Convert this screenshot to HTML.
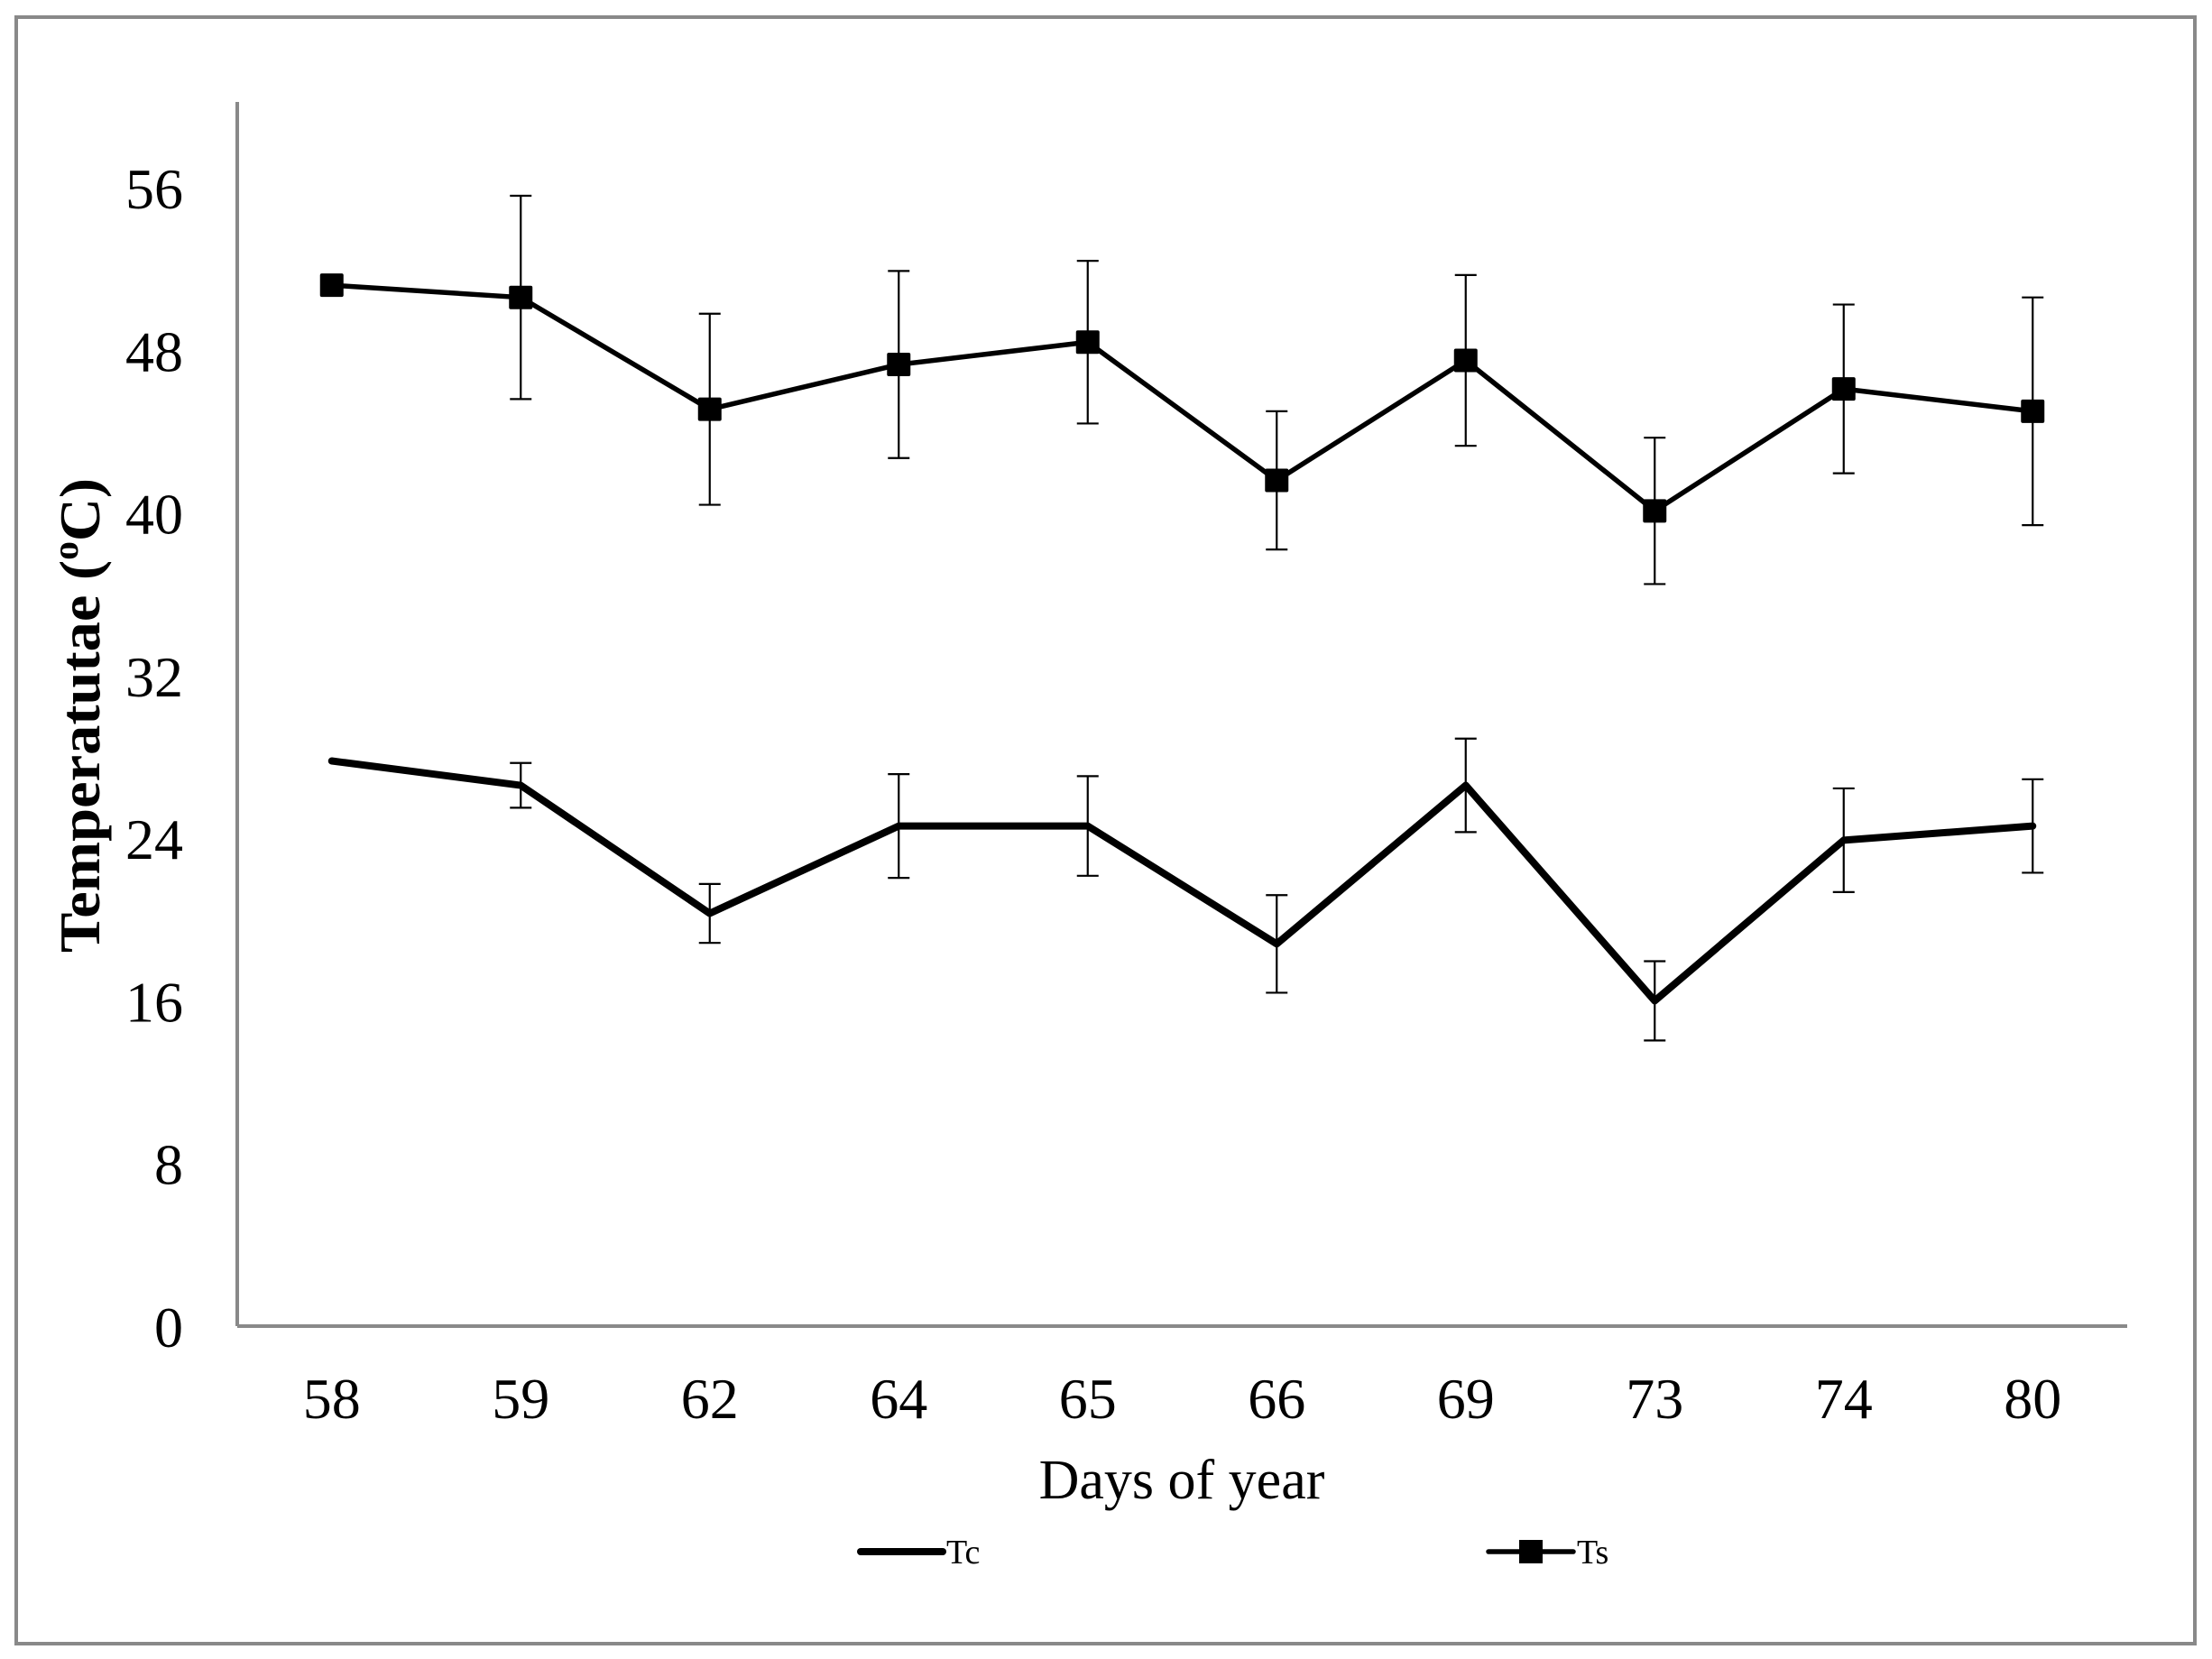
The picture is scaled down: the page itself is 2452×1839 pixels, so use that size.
<!DOCTYPE html>
<html><head><meta charset="utf-8"><style>
html,body{margin:0;padding:0;background:#fff;}
svg{display:block;}
text{font-family:"Liberation Serif",serif;fill:#000;}
</style></head><body>
<svg id="chart" width="2452" height="1839" viewBox="0 0 2452 1839">
<rect x="18" y="19" width="2415" height="1803" fill="#fff" stroke="#898989" stroke-width="4"/>
<g id="axes"></g>
<g id="series"></g>
<text x="1310" y="1661" font-size="62" text-anchor="middle">Days of year</text>
<text transform="translate(110,793) rotate(-90)" font-size="64" font-weight="bold" text-anchor="middle" textLength="526" lengthAdjust="spacingAndGlyphs">Temperatutae (<tspan font-size="40" dy="-24">o</tspan><tspan dy="24">C)</tspan></text>
<g>
<g>
<line x1="954" y1="1720" x2="1045" y2="1720" stroke="#000" stroke-width="8" stroke-linecap="round"/>
<text x="1049" y="1733" font-size="38">Tc</text>
</g>
<g>
<line x1="1650" y1="1720" x2="1744" y2="1720" stroke="#000" stroke-width="5.5" stroke-linecap="round"/>
<rect x="1684" y="1707" width="26" height="26" fill="#000"/>
<text x="1748" y="1733" font-size="38">Ts</text>
</g>
</g>
</svg>
<script>
const categories = ["58","59","62","64","65","66","69","73","74","80"];
const yTicks = [0,8,16,24,32,40,48,56];
const tsValues = [51.2,50.6,45.1,47.3,48.4,41.6,47.5,40.1,46.1,45.0];
const tsErrors = [0,5.0,4.7,4.6,4.0,3.4,4.2,3.6,4.15,5.6];
const tcValues = [27.8,26.6,20.3,24.6,24.6,18.8,26.6,16.0,23.9,24.6];
const tcErrors = [0,1.1,1.45,2.55,2.45,2.4,2.3,1.95,2.55,2.3];

const NS = "http://www.w3.org/2000/svg";
const plotL = 263, plotR = 2358, plotT = 113, plotB = 1470;
const yMin = 0, yMax = 56, yPixTop = 208;
function yScale(v){ return plotB - (v - yMin) / (yMax - yMin) * (plotB - yPixTop); }
function xScale(i){ const w = (plotR - plotL) / categories.length; return plotL + w * (i + 0.5); }
function mk(tag, attrs, parent){ const e = document.createElementNS(NS, tag); for (const k in attrs) e.setAttribute(k, attrs[k]); parent.appendChild(e); return e; }

const axes = document.getElementById('axes');
const yAxis = mk('line', {x1:plotL, y1:plotT, x2:plotL, y2:plotB, stroke:'#898989', 'stroke-width':4}, axes);


const xAxis = mk('line', {x1:plotL, y1:plotB, x2:plotR, y2:plotB, stroke:'#898989', 'stroke-width':4}, axes);


yTicks.forEach(t => {
  const tx = mk('text', {x:203, y:yScale(t) + 23, 'font-size':64, 'text-anchor':'end'}, axes);
  tx.textContent = String(t);
  
  
});
categories.forEach((c, i) => {
  const tx = mk('text', {x:xScale(i), y:1572, 'font-size':64, 'text-anchor':'middle'}, axes);
  tx.textContent = c;
  
  
});

const series = document.getElementById('series');
function drawErrors(vals, errs, name){
  vals.forEach((v, i) => {
    if (!errs[i]) return;
    const x = xScale(i), y1 = yScale(v + errs[i]), y2 = yScale(v - errs[i]);
    const g = mk('g', {stroke:'#000', 'stroke-width':2.2}, series);
    
    
    mk('line', {x1:x, y1:y1, x2:x, y2:y2}, g);
    mk('line', {x1:x-12, y1:y1, x2:x+12, y2:y1}, g);
    mk('line', {x1:x-12, y1:y2, x2:x+12, y2:y2}, g);
  });
}
drawErrors(tsValues, tsErrors, 'ts');
drawErrors(tcValues, tcErrors, 'tc');

const tcLine = mk('polyline', {points: tcValues.map((v,i)=>xScale(i)+','+yScale(v)).join(' '), fill:'none', stroke:'#000', 'stroke-width':8, 'stroke-linejoin':'round', 'stroke-linecap':'round'}, series);



const tsLine = mk('polyline', {points: tsValues.map((v,i)=>xScale(i)+','+yScale(v)).join(' '), fill:'none', stroke:'#000', 'stroke-width':5.5, 'stroke-linejoin':'round'}, series);


tsValues.forEach((v, i) => {
  const m = mk('rect', {x:xScale(i)-13, y:yScale(v)-13, width:26, height:26, fill:'#000', rx:2}, series);
  
  
});
</script>
</body></html>
